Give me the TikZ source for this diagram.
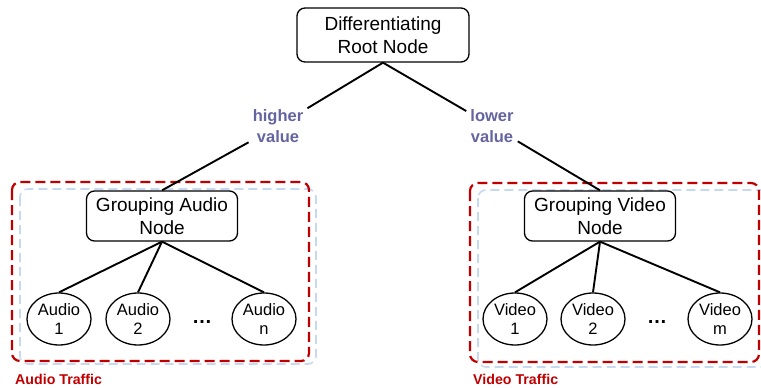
\documentclass[tikz,border=0pt]{standalone}
\usepackage{fontspec}
\setmainfont{Liberation Sans}
\usetikzlibrary{shapes,positioning}
\definecolor{grpred}{RGB}{192,0,0}
\definecolor{grpblue}{RGB}{198,217,241}
\definecolor{lblblue}{RGB}{100,100,160}
\tikzset{
  boxnode/.style={draw, line width=1.3pt, rounded corners=8pt, align=center,
    inner sep=0pt, font=\fontsize{19}{23.5}\selectfont},
  leaf/.style={draw, ellipse, line width=1.3pt, minimum width=64pt,
    minimum height=52pt, inner sep=0pt, align=center,
    font=\fontsize{16.5}{19.5}\selectfont},
  edge/.style={line width=1.9pt},
  choice/.style={text=lblblue, align=center, inner sep=4pt,
    font=\bfseries\fontsize{16.5}{21}\selectfont},
  redbox/.style={draw=grpred, line width=2.2pt, dash pattern=on 10pt off 5pt,
    rounded corners=8pt},
  bluebox/.style={draw=grpblue, line width=1.6pt, dash pattern=on 9pt off 5pt,
    rounded corners=8pt},
  trafficlbl/.style={text=grpred, anchor=west, inner sep=0pt,
    font=\bfseries\fontsize{14.2}{16}\selectfont}
}

\begin{document}
\begin{tikzpicture}[x=1pt,y=-1pt]
  \useasboundingbox (0,0) rectangle (761,388);
  \clip (0,0) rectangle (761,388);
  %\draw[gray] (0,0) grid[step=50] (761,388);
  \draw[bluebox] (20,189) rectangle (316,364) ; %Audio group, light frame
  \draw[redbox]  (12,182) rectangle (309,361) ; %Audio group
  \draw[bluebox] (478,190) rectangle (790,367) ; %Video group, light frame
  \draw[redbox]  (470,183) rectangle (759,362) ; %Video group
  \node[trafficlbl] (audiotraffic) at (15,379) {Audio Traffic};
  \node[trafficlbl] (videotraffic) at (473,379) {Video Traffic};

  \node[boxnode, minimum width=172pt, minimum height=54pt] (root) at (383,35)
    {Differentiating\\Root Node};
  \node[boxnode, minimum width=151pt, minimum height=50pt] (grpaudio) at (162,216)
    {Grouping Audio\\Node};
  \node[boxnode, minimum width=151pt, minimum height=50pt] (grpvideo) at (600,216)
    {Grouping Video\\Node};
  \node[choice] (higher) at (278,126) {higher\\value};
  \node[choice] (lower)  at (492,126) {lower\\value};

  \draw[edge] (root.south) -- (higher) ; %Root to audio side
  \draw[edge] (higher) -- (grpaudio.north) ;
  \draw[edge] (root.south) -- (lower) ; %Root to video side
  \draw[edge] (lower) -- (grpvideo.north) ;

  \node[leaf] (audio1) at (59,319)  {Audio\\1};
  \node[leaf] (audio2) at (138,319) {Audio\\2};
  \node[leaf] (audion) at (264,319) {Audio\\n};
  \node (audiodots) at (202,322) {\fontsize{20}{20}\selectfont\textbf{\dots}};
  \node[leaf] (video1) at (515,319) {Video\\1};
  \node[leaf] (video2) at (593,319) {Video\\2};
  \node[leaf] (videom) at (720,319) {Video\\m};
  \node (videodots) at (657,322) {\fontsize{20}{20}\selectfont\textbf{\dots}};

  \foreach \leafname in {audio1,audio2,audion}
    \draw[edge] (grpaudio.south) -- (\leafname.north) ;
  \foreach \leafname in {video1,video2,videom}
    \draw[edge] (grpvideo.south) -- (\leafname.north) ;
\end{tikzpicture}
\end{document}
